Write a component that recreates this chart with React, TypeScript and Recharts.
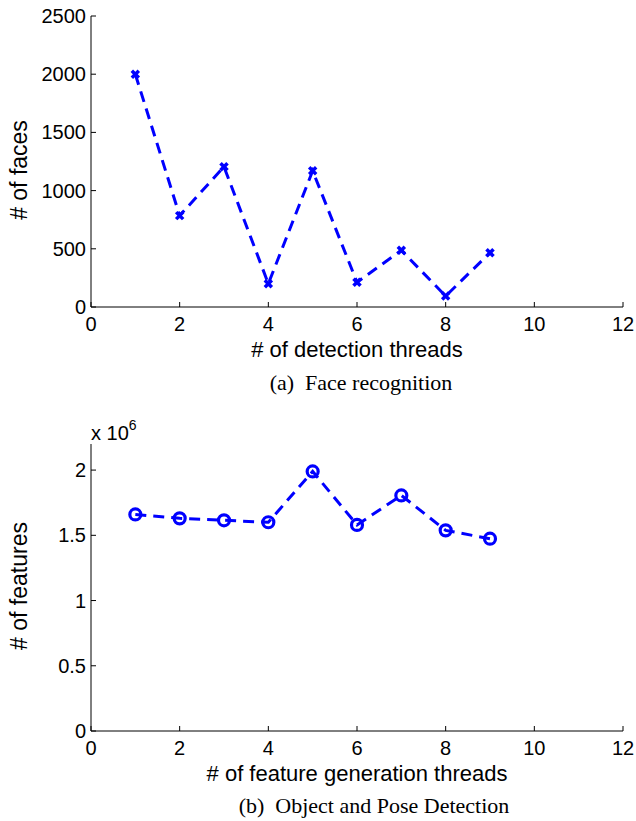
import React from 'react';
import { LineChart, Line, XAxis, YAxis } from 'recharts';

// ---- data ----
const threads = [1, 2, 3, 4, 5, 6, 7, 8, 9];
const faces = [2000, 785, 1205, 200, 1170, 212, 487, 94, 466];
const features = [1660000, 1630000, 1615000, 1600000, 1990000, 1580000, 1806000, 1538000, 1474000];
const xTicks = [0, 2, 4, 6, 8, 10, 12];
const facesTicks = [0, 500, 1000, 1500, 2000, 2500];
const featureTicks = [0, 500000, 1000000, 1500000, 2000000];

const faceData = threads.map((t, i) => ({ t, v: faces[i] }));
const featureData = threads.map((t, i) => ({ t, v: features[i] }));

const SANS = '"Liberation Sans", Arial, Helvetica, sans-serif';
const SERIF = '"Liberation Serif", "Times New Roman", Times, serif';
const BLUE = '#0000ff';

const BottomTick = (p: any) => {
  const { x, y, payload } = p;
  return (
    <g>
      <line x1={x} x2={x} y1={y} y2={y - 5} stroke="#000" strokeWidth={1} />
      <text x={x} y={y + 24} textAnchor="middle" fontSize={20} fill="#000" fontFamily={SANS}>
        {String(payload.value)}
      </text>
    </g>
  );
};

const makeLeftTick = (fmt: (v: number) => string) => (p: any) => {
  const { x, y, payload } = p;
  return (
    <g>
      <line x1={x} x2={x + 5} y1={y} y2={y} stroke="#000" strokeWidth={1} />
      <text x={x - 5} y={y + 7} textAnchor="end" fontSize={20} fill="#000" fontFamily={SANS}>
        {fmt(payload.value)}
      </text>
    </g>
  );
};

const CrossDot = (p: any) => {
  const { cx, cy, index } = p;
  if (cx == null || cy == null) return <g key={`c${index}`} />;
  const s = 3.5;
  return (
    <g key={`c${index}`}>
      <line x1={cx - s} y1={cy - s} x2={cx + s} y2={cy + s} stroke={BLUE} strokeWidth={3.5} />
      <line x1={cx - s} y1={cy + s} x2={cx + s} y2={cy - s} stroke={BLUE} strokeWidth={3.5} />
    </g>
  );
};

const CircleDot = (p: any) => {
  const { cx, cy, index } = p;
  if (cx == null || cy == null) return <g key={`o${index}`} />;
  return <circle key={`o${index}`} cx={cx} cy={cy} r={5.5} fill="none" stroke={BLUE} strokeWidth={3.2} />;
};

const xLabel = (text: string) => (props: any) => {
  const vb = props.viewBox || {};
  return (
    <text x={vb.x + vb.width / 2} y={vb.y + 50} textAnchor="middle" fontSize={22} fill="#000" fontFamily={SANS}>
      {text}
    </text>
  );
};

const yLabel = (text: string, cy: number, extra?: boolean) => (props: any) => {
  const vb = props.viewBox || {};
  const cx = 19;
  return (
    <g>
      <text
        x={cx}
        y={cy}
        transform={`rotate(-90, ${cx}, ${cy})`}
        dy={8}
        textAnchor="middle"
        fontSize={23}
        fill="#000"
        fontFamily={SANS}
      >
        {text}
      </text>
      {extra ? (
        <text x={vb.x + vb.width} y={vb.y - 4} fontSize={20} fill="#000" fontFamily={SANS}>
          x 10
          <tspan fontSize={14} dy={-10}>6</tspan>
        </text>
      ) : null}
    </g>
  );
};

export default function App() {
  return (
    <div style={{ position: 'absolute', left: 0, top: 0, width: 636, height: 821, background: '#fff' }}>
      <div style={{ position: 'absolute', left: 0, top: 0 }}>
        <LineChart width={636} height={410} data={faceData} margin={{ top: 16, right: 13, left: 0, bottom: 73 }}>
          <XAxis
            dataKey="t"
            type="number"
            domain={[0, 12]}
            ticks={xTicks}
            interval={0}
            height={30}
            tickSize={0}
            tickMargin={0}
            tick={BottomTick}
            axisLine={{ stroke: '#000', strokeWidth: 1 }}
            label={{ content: xLabel('# of detection threads') }}
          />
          <YAxis
            type="number"
            domain={[0, 2500]}
            ticks={facesTicks}
            interval={0}
            width={91}
            tickSize={0}
            tickMargin={0}
            tick={makeLeftTick((v) => String(v))}
            axisLine={{ stroke: '#000', strokeWidth: 1 }}
            label={{ content: yLabel('# of faces', 170) }}
          />
          <Line
            type="linear"
            dataKey="v"
            stroke={BLUE}
            strokeWidth={3}
            strokeDasharray="11 7"
            dot={CrossDot}
            activeDot={false}
            isAnimationActive={false}
          />
        </LineChart>
      </div>
      <div style={{ position: 'absolute', left: 0, top: 410 }}>
        <LineChart width={636} height={411} data={featureData} margin={{ top: 34, right: 13, left: 0, bottom: 60 }}>
          <XAxis
            dataKey="t"
            type="number"
            domain={[0, 12]}
            ticks={xTicks}
            interval={0}
            height={30}
            tickSize={0}
            tickMargin={0}
            tick={BottomTick}
            axisLine={{ stroke: '#000', strokeWidth: 1 }}
            label={{ content: xLabel('# of feature generation threads') }}
          />
          <YAxis
            type="number"
            domain={[0, 2200000]}
            ticks={featureTicks}
            interval={0}
            width={91}
            tickSize={0}
            tickMargin={0}
            tick={makeLeftTick((v) => String(v / 1000000))}
            axisLine={{ stroke: '#000', strokeWidth: 1 }}
            label={{ content: yLabel('# of features', 176, true) }}
          />
          <Line
            type="linear"
            dataKey="v"
            stroke={BLUE}
            strokeWidth={3}
            strokeDasharray="11 7"
            dot={CircleDot}
            activeDot={false}
            isAnimationActive={false}
          />
        </LineChart>
      </div>
      <div
        style={{
          position: 'absolute',
          left: 0,
          width: 722,
          top: 371,
          textAlign: 'center',
          fontFamily: SERIF,
          fontSize: 22,
          lineHeight: '24px',
          color: '#000',
          whiteSpace: 'nowrap',
        }}
      >
        (a)&nbsp; Face recognition
      </div>
      <div
        style={{
          position: 'absolute',
          left: 0,
          width: 748,
          top: 794,
          textAlign: 'center',
          fontFamily: SERIF,
          fontSize: 22,
          lineHeight: '24px',
          color: '#000',
          whiteSpace: 'nowrap',
        }}
      >
        (b)&nbsp; Object and Pose Detection
      </div>
    </div>
  );
}
